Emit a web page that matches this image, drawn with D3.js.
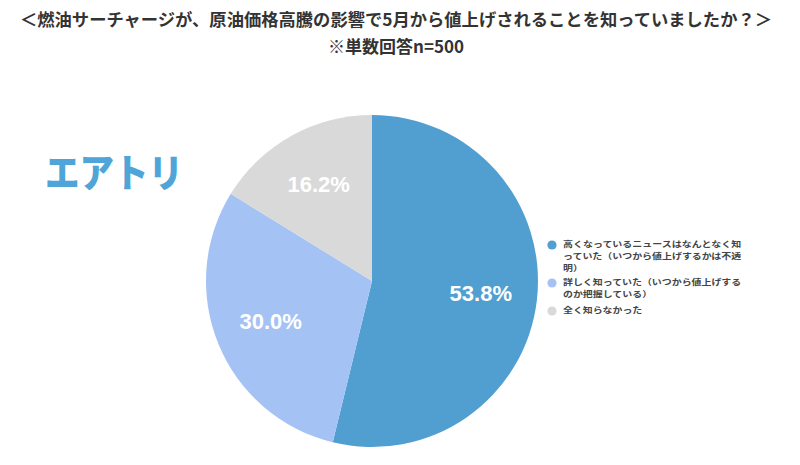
<!DOCTYPE html>
<html><head><meta charset="utf-8">
<script src="https://cdn.jsdelivr.net/npm/d3@7/dist/d3.min.js"></script>
<style>body{margin:0;background:#fff;}svg{display:block;}</style>
</head><body>
<svg id="chart" width="800" height="465"></svg>
<script>
const titleLines = ["＜燃油サーチャージが、原油価格高騰の影響で5月から値上げされることを知っていましたか？＞", "※単数回答n=500"];
const categories = [
  ["高くなっているニュースはなんとなく知", "っていた（いつから値上げするかは不透", "明）"],
  ["詳しく知っていた（いつから値上げする", "のか把握している）"],
  ["全く知らなかった"]
];
const values = [53.8, 30.0, 16.2];
const colors = ["#519fd1", "#a4c2f4", "#d9d9d9"];
const logoText = "エアトリ";

const svg = d3.select("#chart");
const cx = 372, cy = 281, R = 166;

// Title
svg.append("text").attr("x", 396).attr("y", 26).attr("text-anchor", "middle")
  .attr("font-family", "'Noto Sans CJK JP', sans-serif").attr("font-weight", 700)
  .attr("font-size", 17).attr("fill", "#333").attr("textLength", 752).attr("lengthAdjust", "spacingAndGlyphs")
  .text(titleLines[0]);
svg.append("text").attr("x", 396).attr("y", 53).attr("text-anchor", "middle")
  .attr("font-family", "'Noto Sans CJK JP', sans-serif").attr("font-weight", 700)
  .attr("font-size", 17).attr("fill", "#333")
  .text(titleLines[1]);

// Logo
svg.append("text").attr("x", 45).attr("y", 187)
  .attr("font-family", "'Noto Sans CJK JP', sans-serif").attr("font-weight", 900)
  .attr("font-size", 39).attr("fill", "#50a5d8").attr("textLength", 138).attr("lengthAdjust", "spacingAndGlyphs")
  .text(logoText);

// Pie
const pie = d3.pie().sort(null).value(d => d)(values);
const arc = d3.arc().innerRadius(0).outerRadius(R);
const labelArc = d3.arc().innerRadius(R * 0.66).outerRadius(R * 0.66);
const g = svg.append("g").attr("transform", `translate(${cx},${cy})`);
g.selectAll("path").data(pie).join("path")
  .attr("d", arc).attr("fill", (d, i) => colors[i]);
g.selectAll("text").data(pie).join("text")
  .attr("transform", d => `translate(${labelArc.centroid(d)})`)
  .attr("text-anchor", "middle").attr("dy", "0.3em")
  .attr("font-family", "'Liberation Sans', Arial, sans-serif").attr("font-weight", 700)
  .attr("font-size", 22).attr("fill", "#fff")
  .text(d => d.value.toFixed(1) + "%");

// Legend
const legendY = [244, 282, 310];
const lg = svg.append("g");
categories.forEach((lines, i) => {
  lg.append("circle").attr("cx", 552).attr("cy", legendY[i] + 1).attr("r", 4.6).attr("fill", colors[i]);
  lines.forEach((s, j) => {
    lg.append("text").attr("x", 563).attr("y", legendY[i] + j * 12).attr("dy", "0.36em")
      .attr("font-family", "'Noto Sans CJK JP', sans-serif").attr("font-weight", 700)
      .attr("font-size", 8.2).attr("fill", "#444")
      .attr("textLength", s.length * 9.9).attr("lengthAdjust", "spacingAndGlyphs").text(s);
  });
});
</script>
</body></html>
